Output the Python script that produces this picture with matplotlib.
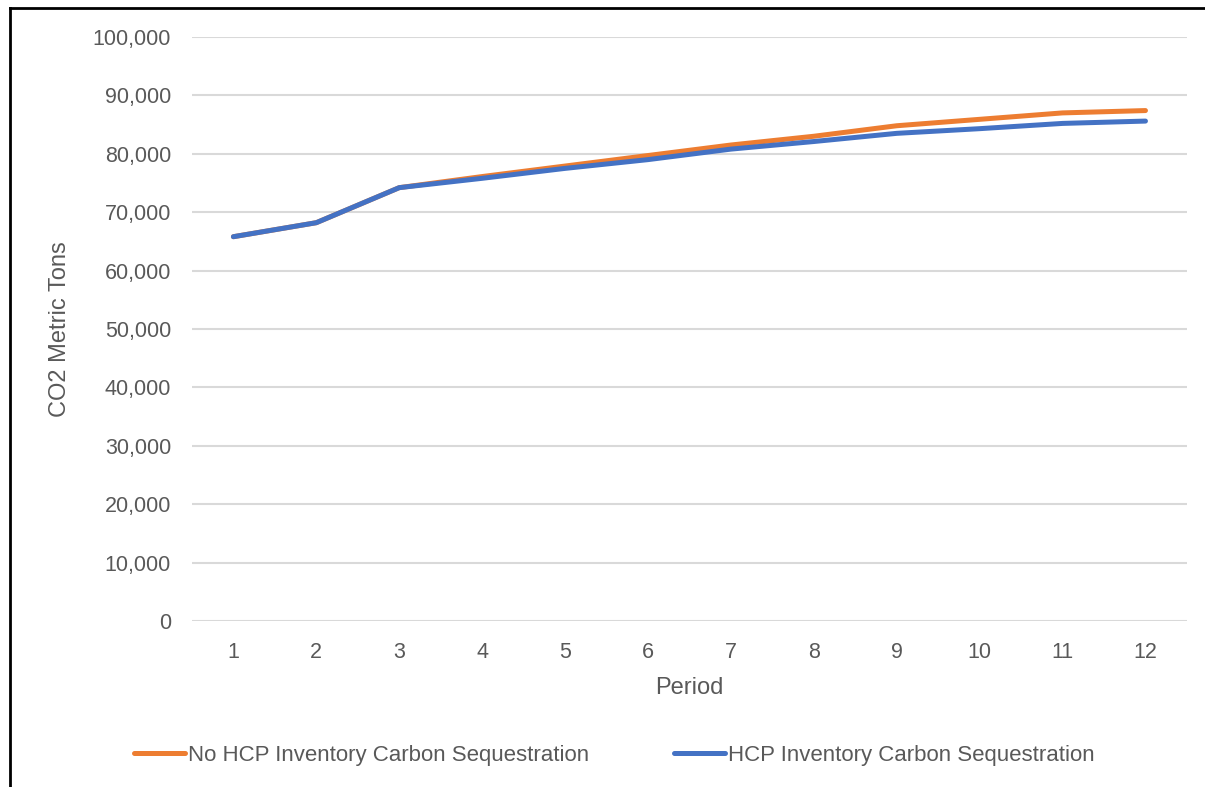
import matplotlib.pyplot as plt
from matplotlib.lines import Line2D
from matplotlib.ticker import FuncFormatter

periods = list(range(1, 13))
no_hcp = [65800, 68200, 74200, 76100, 77900, 79700, 81500, 83000, 84800, 85900, 87000, 87400]
hcp = [65800, 68200, 74200, 75800, 77500, 79000, 80800, 82100, 83500, 84300, 85200, 85600]
series_names = ["No HCP Inventory Carbon Sequestration", "HCP Inventory Carbon Sequestration"]

plt.rcParams['font.family'] = ['Liberation Sans', 'DejaVu Sans']
grey_text = '#595959'

fig = plt.figure(figsize=(12.05, 7.87), dpi=100)
ax = fig.add_axes([0.1593, 0.211, 0.8257, 0.742])

ax.plot(periods, no_hcp, color='#ED7D31', lw=3.6, solid_capstyle='round', label=series_names[0])
ax.plot(periods, hcp, color='#4472C4', lw=3.6, solid_capstyle='round', label=series_names[1])

ax.set_xlim(0.5, 12.5)
ax.set_ylim(0, 100000)
ax.set_xticks(periods)
ax.set_yticks(range(0, 100001, 10000))
ax.yaxis.set_major_formatter(FuncFormatter(lambda v, p: f"{int(v):,}"))
ax.grid(axis='y', color='#D9D9D9', lw=1.5)
ax.set_axisbelow(True)
for s in ax.spines.values():
    s.set_visible(False)
ax.tick_params(length=0, labelsize=15.5, colors=grey_text)
ax.tick_params(axis='y', pad=15)
ax.tick_params(axis='x', pad=15)

ax.set_xlabel("Period", fontsize=17, color=grey_text, labelpad=10)
ax.set_ylabel("CO2 Metric Tons", fontsize=17, color=grey_text, labelpad=16)

fig.legend(loc='center', bbox_to_anchor=(0.51, 0.04), ncol=2, frameon=False,
           fontsize=16, labelcolor=grey_text, handlelength=2.3, handletextpad=0.15,
           columnspacing=3.8)

# outer frame of the chart box
fig.add_artist(Line2D([0.0083, 0.0083], [0, 0.99], transform=fig.transFigure, color='black', lw=2))
fig.add_artist(Line2D([0.0083, 1.0], [0.99, 0.99], transform=fig.transFigure, color='black', lw=2))

fig.savefig("out.png", dpi=100)
